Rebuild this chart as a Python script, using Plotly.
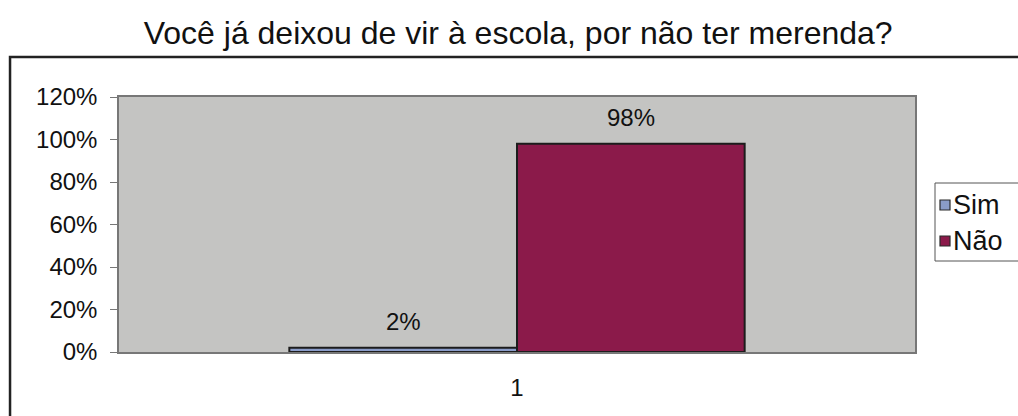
import plotly.graph_objects as go

# Survey answers: "Você já deixou de vir à escola, por não ter merenda?"
categories = ["1"]
series_names = ["Sim", "Não"]
series_values = [[0.02], [0.98]]
series_colors = ["#8a9cc8", "#8b1a4a"]
y_tick_values = [0, 0.2, 0.4, 0.6, 0.8, 1.0, 1.2]
y_tick_labels = ["0%", "20%", "40%", "60%", "80%", "100%", "120%"]

font_family = "Liberation Sans, Arial, sans-serif"
text_color = "#111111"

# Pixel geometry of the plotting area
margin_l, margin_r, margin_t, margin_b = 119, 103, 97, 64
fig_w, fig_h = 1018, 416
plot_w = fig_w - margin_l - margin_r
plot_h = fig_h - margin_t - margin_b
bar_gap = 0.428
bar_px = plot_w * (1 - bar_gap) / len(series_names)

fig = go.Figure()
for name, vals, color in zip(series_names, series_values, series_colors):
    fig.add_trace(go.Bar(
        x=categories,
        y=vals,
        name=name,
        marker=dict(color=color, line=dict(color="#1c1c1c", width=2)),
        showlegend=False,
    ))

# Value labels sitting a little above each bar (x given as category index)
for i, vals in enumerate(series_values):
    offset = (i - (len(series_names) - 1) / 2) * bar_px
    for ci, v in enumerate(vals):
        fig.add_annotation(
            x=ci, y=v, xref="x", yref="y",
            text=f"{v:.0%}", showarrow=False,
            xanchor="center", yanchor="bottom",
            xshift=offset, yshift=11,
            font=dict(family=font_family, size=24, color=text_color),
        )

fig.update_layout(
    width=fig_w,
    height=fig_h,
    margin=dict(l=margin_l, r=margin_r, t=margin_t, b=margin_b, autoexpand=False),
    paper_bgcolor="white",
    plot_bgcolor="#c4c4c2",
    barmode="group",
    bargap=bar_gap,
    bargroupgap=0,
    title=dict(
        text="Você já deixou de vir à escola, por não ter merenda?",
        x=0.509, xanchor="center",
        y=0.92, yanchor="middle",
        font=dict(family=font_family, size=32, color=text_color),
    ),
    font=dict(family=font_family, color=text_color),
    xaxis=dict(
        type="category",
        range=[-0.5, 0.5],
        showgrid=False,
        showline=True,
        linecolor="#777777",
        linewidth=1.5,
        mirror=True,
        ticks="",
        tickfont=dict(family=font_family, size=24, color=text_color),
        ticklabelstandoff=13,
    ),
    yaxis=dict(
        range=[0, 1.2],
        tickvals=y_tick_values,
        ticktext=y_tick_labels,
        showgrid=False,
        zeroline=False,
        showline=True,
        linecolor="#777777",
        linewidth=1.5,
        mirror=True,
        ticks="outside",
        ticklen=7,
        tickcolor="#777777",
        tickfont=dict(family=font_family, size=24, color=text_color),
        ticklabelstandoff=8,
    ),
)

def px_x(px):
    return (px - margin_l) / plot_w

def px_y(py):
    return (fig_h - margin_b - py) / plot_h

# Outer chart frame, open to the right and bottom edges of the page
fig.add_shape(
    type="path",
    xref="paper", yref="paper",
    path=f"M {px_x(10):.4f} -0.5 L {px_x(10):.4f} {px_y(57):.4f} L 1.3 {px_y(57):.4f}",
    line=dict(color="#222222", width=2.5),
    layer="above",
)

# Legend box with a small swatch and label per series
fig.add_shape(
    type="rect", xref="paper", yref="paper",
    x0=px_x(935), x1=px_x(1040), y0=px_y(261), y1=px_y(183),
    line=dict(color="#555555", width=1), fillcolor="white",
)
legend_rows_y = [205, 241]
for name, color, ry in zip(series_names, series_colors, legend_rows_y):
    fig.add_shape(
        type="rect", xref="paper", yref="paper",
        x0=px_x(940), x1=px_x(950), y0=px_y(ry + 5), y1=px_y(ry - 5),
        line=dict(color="#2a2a2a", width=1.2), fillcolor=color,
    )
    fig.add_annotation(
        xref="paper", yref="paper",
        x=px_x(951), y=px_y(ry), xanchor="left", yanchor="middle",
        text=name, showarrow=False,
        font=dict(family=font_family, size=27, color=text_color),
    )

fig.write_html("out.html")
